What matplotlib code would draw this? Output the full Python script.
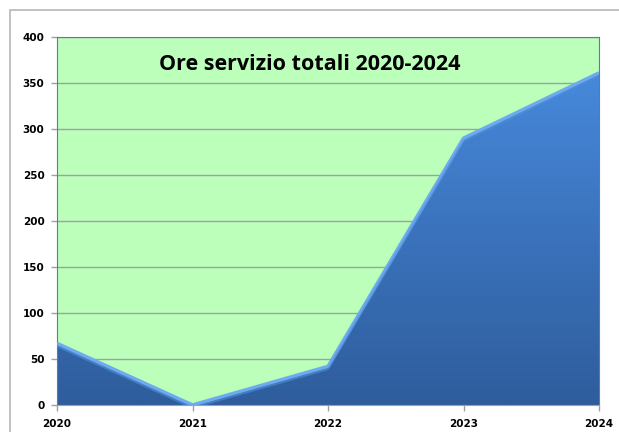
import numpy as np
import matplotlib.pyplot as plt
from matplotlib.patches import Polygon, Rectangle
from matplotlib.colors import LinearSegmentedColormap

# dati
anni = ['2020', '2021', '2022', '2023', '2024']
ore = [67, 0, 42, 290, 361]
yticks = [0, 50, 100, 150, 200, 250, 300, 350, 400]

fig = plt.figure(figsize=(6.19, 4.32), dpi=100)
fig.patch.set_facecolor('white')

# bordo esterno del grafico
fig.patches.append(Rectangle((10 / 619, -0.1), 1.2, (422 / 432) + 0.1,
                             transform=fig.transFigure, fill=False,
                             edgecolor='#b8b8b8', linewidth=1.2))

ax = fig.add_axes([57 / 619, 27 / 432, 542 / 619, 368 / 432])
ax.set_facecolor('#bbffbb')

x = np.arange(len(anni))
ax.set_xlim(0, len(anni) - 1)
ax.set_ylim(0, 400)

# area con sfumatura
verts = [(0, 0)] + list(zip(x, ore)) + [(x[-1], 0)]
poly = Polygon(verts, closed=True, facecolor='none', edgecolor='none')
ax.add_patch(poly)
cmap = LinearSegmentedColormap.from_list('blu', ['#2f5d9c', '#3a72bb', '#4789db'])
grad = np.linspace(0, 1, 256).reshape(-1, 1)
img = ax.imshow(grad, cmap=cmap, origin='lower', aspect='auto',
                extent=[0, len(anni) - 1, 0, max(ore)], zorder=2)
img.set_clip_path(poly)

# riflesso sul bordo superiore
ax.plot(x, ore, color='#6eaaf0', linewidth=2.5, zorder=3, solid_capstyle='butt')
ax.plot(x, np.array(ore) - 3, color='#4f8fda', linewidth=1.5, zorder=3, alpha=0.6)

ax.set_yticks(yticks)
ax.set_xticks(x)
ax.set_xticklabels(anni)
ax.grid(axis='y', color='#a0a0a0', linewidth=1)
ax.set_axisbelow(True)

for s in ['top', 'right', 'left']:
    ax.spines[s].set_color('#5a74c8')
ax.spines['bottom'].set_color('#a0a0a0')
ax.tick_params(axis='both', colors='#a0a0a0', labelcolor='black', length=4, width=1)
for lab in ax.get_xticklabels() + ax.get_yticklabels():
    lab.set_fontsize(7.5)
    lab.set_fontweight('bold')
ax.tick_params(axis='x', pad=6)
ax.tick_params(axis='y', pad=5)

ax.text(0.467, 0.924, 'Ore servizio totali 2020-2024', transform=ax.transAxes,
        ha='center', va='center', fontsize=15.5, fontweight='bold',
        family='Open Sans', zorder=5)

plt.savefig('out.png', dpi=100)
